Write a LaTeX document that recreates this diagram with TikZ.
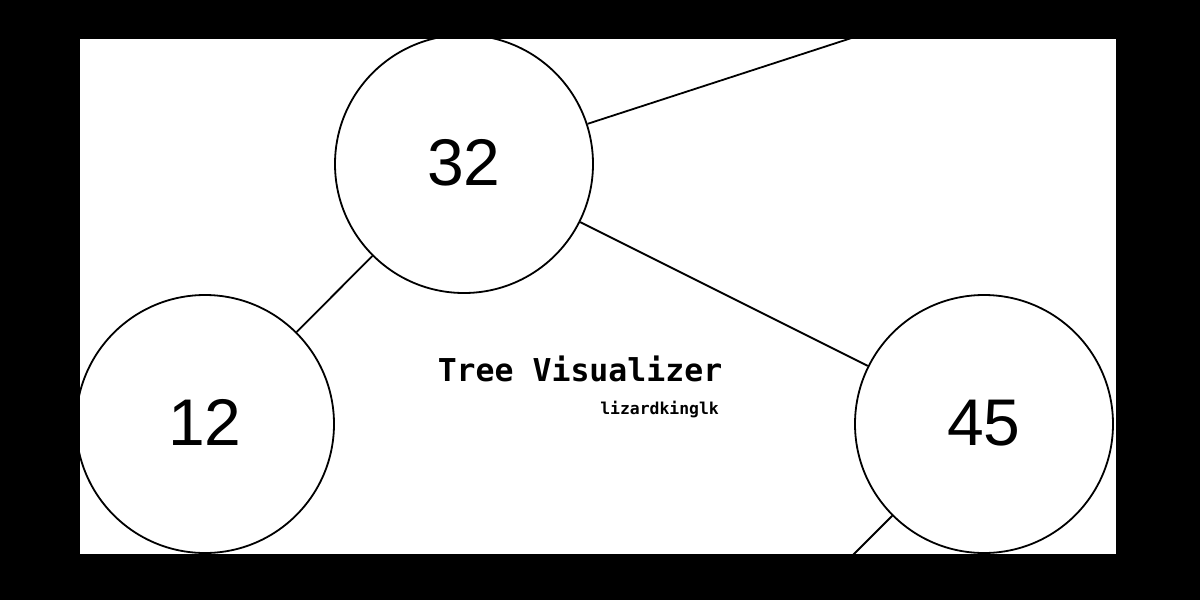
\documentclass[tikz,border=0pt]{standalone}
\usepackage{fontspec}
\setmainfont{Liberation Sans}
\newfontfamily\monofam{DejaVu Sans Mono}
\begin{document}
\begin{tikzpicture}[x=1pt,y=-1pt,
  treenode/.style={circle,draw=black,fill=white,line width=1.8pt,minimum size=258pt,inner sep=0pt,
    font=\fontsize{66}{66}\selectfont},
  edge/.style={draw=black,line width=1.8pt},
  titletext/.style={font=\monofam\bfseries\fontsize{31.5}{32}\selectfont,inner sep=0pt},
  subtext/.style={font=\monofam\bfseries\fontsize{16.4}{17}\selectfont,inner sep=0pt}]
\useasboundingbox (0,0) rectangle (1200,600);
\fill[black] (0,0) rectangle (1200,600);
\fill[white] (80,39) rectangle (1116,554);
\begin{scope}
\clip (80,39) rectangle (1116,554);
\node[treenode] (n32) at (464,164) {\raisebox{3pt}{32}};
\node[treenode] (n12) at (205,424) {\raisebox{3pt}{12}};
\node[treenode] (n45) at (984,424) {\raisebox{3pt}{45}};
\coordinate (root) at (1110,-46);
\coordinate (c45) at (724,684);
\draw[edge] (n32) -- (root);
\draw[edge] (n32) -- (n12);
\draw[edge] (n32) -- (n45);
\draw[edge] (n45) -- (c45);
\end{scope}
\node[titletext,anchor=base] (title) at (580,381) {Tree Visualizer};
\node[subtext,anchor=base east] (author) at (719,414) {lizardkinglk};
\end{tikzpicture}
\end{document}
